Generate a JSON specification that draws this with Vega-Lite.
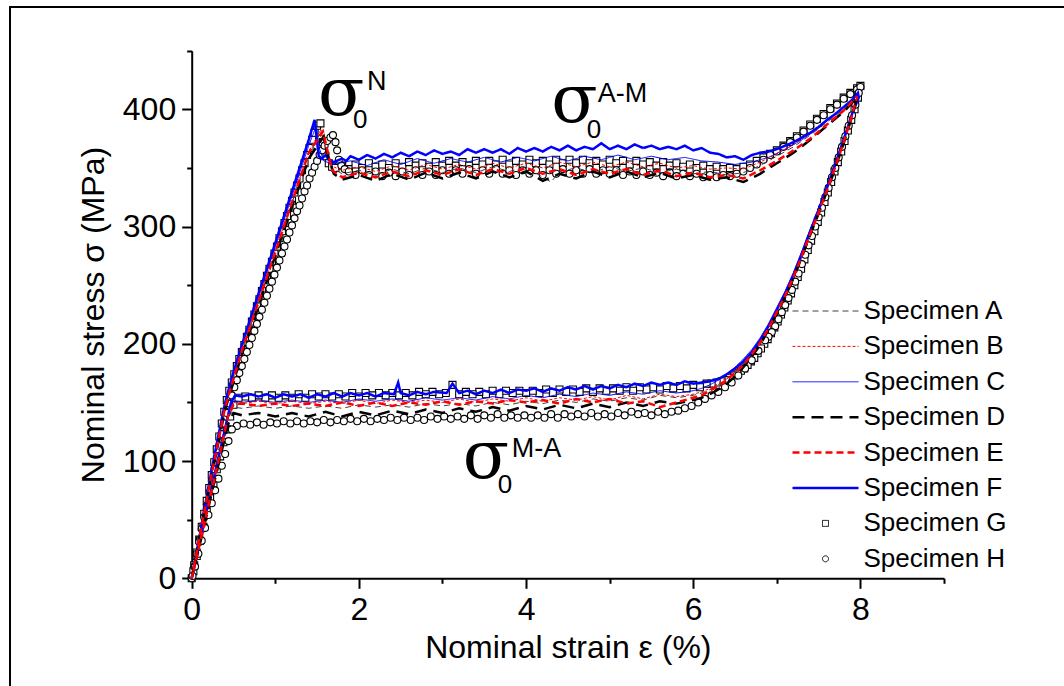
{
"$schema": "https://vega.github.io/schema/vega-lite/v6.json",
"width": 1054, "height": 679,
"autosize": {"type": "none"},
"padding": {"left": 10, "top": 7, "right": 0, "bottom": 0},
"config": {"view": {"stroke": "#000000", "strokeWidth": 2, "strokeDash": [1054, 1733, 679]}, "font": "Liberation Sans"},
"datasets": {
"curves": [
{"s":"F","x":0,"y":0},{"s":"F","x":0.1,"y":38},{"s":"F","x":0.2,"y":78},{"s":"F","x":0.3,"y":115},{"s":"F","x":0.4,"y":150},{"s":"F","x":0.5,"y":176},{"s":"F","x":0.6,"y":199},{"s":"F","x":0.7,"y":221},{"s":"F","x":0.8,"y":243},{"s":"F","x":0.9,"y":264},{"s":"F","x":1.0,"y":286},{"s":"F","x":1.1,"y":308},{"s":"F","x":1.2,"y":330},{"s":"F","x":1.3,"y":352},{"s":"F","x":1.4,"y":374},{"s":"F","x":1.47,"y":391},{"s":"F","x":1.5,"y":372},{"s":"F","x":1.52,"y":360},{"s":"F","x":1.56,"y":358},{"s":"F","x":1.6,"y":361},{"s":"F","x":1.65,"y":356},{"s":"F","x":1.7,"y":355},{"s":"F","x":1.8,"y":358},{"s":"F","x":1.85,"y":356},{"s":"F","x":1.9,"y":360},{"s":"F","x":2.0,"y":357},{"s":"F","x":2.1,"y":361},{"s":"F","x":2.2,"y":358},{"s":"F","x":2.3,"y":362},{"s":"F","x":2.4,"y":359},{"s":"F","x":2.5,"y":363},{"s":"F","x":2.6,"y":360},{"s":"F","x":2.7,"y":364},{"s":"F","x":2.8,"y":361},{"s":"F","x":2.9,"y":365},{"s":"F","x":3.0,"y":362},{"s":"F","x":3.1,"y":364},{"s":"F","x":3.2,"y":361},{"s":"F","x":3.3,"y":366},{"s":"F","x":3.4,"y":363},{"s":"F","x":3.5,"y":366},{"s":"F","x":3.6,"y":363},{"s":"F","x":3.7,"y":366},{"s":"F","x":3.8,"y":362},{"s":"F","x":3.9,"y":367},{"s":"F","x":4.0,"y":364},{"s":"F","x":4.1,"y":367},{"s":"F","x":4.2,"y":364},{"s":"F","x":4.3,"y":368},{"s":"F","x":4.4,"y":365},{"s":"F","x":4.5,"y":369},{"s":"F","x":4.6,"y":365},{"s":"F","x":4.7,"y":368},{"s":"F","x":4.8,"y":366},{"s":"F","x":4.9,"y":371},{"s":"F","x":5.0,"y":366},{"s":"F","x":5.1,"y":369},{"s":"F","x":5.2,"y":366},{"s":"F","x":5.3,"y":370},{"s":"F","x":5.4,"y":367},{"s":"F","x":5.5,"y":369},{"s":"F","x":5.6,"y":366},{"s":"F","x":5.7,"y":368},{"s":"F","x":5.8,"y":366},{"s":"F","x":5.9,"y":369},{"s":"F","x":6.0,"y":365},{"s":"F","x":6.1,"y":367},{"s":"F","x":6.2,"y":363},{"s":"F","x":6.3,"y":362},{"s":"F","x":6.4,"y":359},{"s":"F","x":6.5,"y":360},{"s":"F","x":6.6,"y":357},{"s":"F","x":6.7,"y":361},{"s":"F","x":6.8,"y":363},{"s":"F","x":6.9,"y":364},{"s":"F","x":7.0,"y":366},{"s":"F","x":7.1,"y":369},{"s":"F","x":7.2,"y":372},{"s":"F","x":7.3,"y":376},{"s":"F","x":7.4,"y":380},{"s":"F","x":7.5,"y":385},{"s":"F","x":7.6,"y":391},{"s":"F","x":7.7,"y":396},{"s":"F","x":7.8,"y":402},{"s":"F","x":7.9,"y":408},{"s":"F","x":7.97,"y":414},{"s":"F","x":7.98,"y":410},{"s":"F","x":7.9,"y":396},{"s":"F","x":7.8,"y":374},{"s":"F","x":7.7,"y":353},{"s":"F","x":7.6,"y":333},{"s":"F","x":7.5,"y":314},{"s":"F","x":7.4,"y":296},{"s":"F","x":7.3,"y":277},{"s":"F","x":7.2,"y":259},{"s":"F","x":7.1,"y":243},{"s":"F","x":7.0,"y":229},{"s":"F","x":6.9,"y":215},{"s":"F","x":6.8,"y":203},{"s":"F","x":6.7,"y":193},{"s":"F","x":6.6,"y":185},{"s":"F","x":6.5,"y":179},{"s":"F","x":6.4,"y":174},{"s":"F","x":6.3,"y":170},{"s":"F","x":6.2,"y":168},{"s":"F","x":6.1,"y":167},{"s":"F","x":6.0,"y":166},{"s":"F","x":5.9,"y":168},{"s":"F","x":5.8,"y":165},{"s":"F","x":5.7,"y":167},{"s":"F","x":5.6,"y":165},{"s":"F","x":5.5,"y":167},{"s":"F","x":5.4,"y":164},{"s":"F","x":5.3,"y":166},{"s":"F","x":5.2,"y":163},{"s":"F","x":5.1,"y":165},{"s":"F","x":5.0,"y":162},{"s":"F","x":4.9,"y":164},{"s":"F","x":4.8,"y":161},{"s":"F","x":4.7,"y":164},{"s":"F","x":4.6,"y":161},{"s":"F","x":4.5,"y":163},{"s":"F","x":4.4,"y":160},{"s":"F","x":4.3,"y":162},{"s":"F","x":4.2,"y":159},{"s":"F","x":4.1,"y":162},{"s":"F","x":4.0,"y":160},{"s":"F","x":3.9,"y":161},{"s":"F","x":3.8,"y":158},{"s":"F","x":3.7,"y":161},{"s":"F","x":3.6,"y":158},{"s":"F","x":3.5,"y":160},{"s":"F","x":3.4,"y":157},{"s":"F","x":3.3,"y":160},{"s":"F","x":3.2,"y":158},{"s":"F","x":3.12,"y":166},{"s":"F","x":3.05,"y":158},{"s":"F","x":2.9,"y":159},{"s":"F","x":2.8,"y":157},{"s":"F","x":2.7,"y":159},{"s":"F","x":2.6,"y":156},{"s":"F","x":2.5,"y":158},{"s":"F","x":2.47,"y":167},{"s":"F","x":2.42,"y":157},{"s":"F","x":2.3,"y":158},{"s":"F","x":2.2,"y":155},{"s":"F","x":2.1,"y":158},{"s":"F","x":2.0,"y":156},{"s":"F","x":1.9,"y":158},{"s":"F","x":1.8,"y":155},{"s":"F","x":1.7,"y":158},{"s":"F","x":1.6,"y":155},{"s":"F","x":1.5,"y":157},{"s":"F","x":1.4,"y":154},{"s":"F","x":1.3,"y":157},{"s":"F","x":1.2,"y":155},{"s":"F","x":1.1,"y":157},{"s":"F","x":1.0,"y":154},{"s":"F","x":0.9,"y":157},{"s":"F","x":0.8,"y":155},{"s":"F","x":0.7,"y":157},{"s":"F","x":0.6,"y":155},{"s":"F","x":0.52,"y":156},{"s":"F","x":0.47,"y":150},{"s":"F","x":0.4,"y":128},{"s":"F","x":0.3,"y":97},{"s":"F","x":0.2,"y":65},{"s":"F","x":0.1,"y":32},{"s":"F","x":0.02,"y":6},
{"s":"C","x":0,"y":0},{"s":"C","x":0.2,"y":77},{"s":"C","x":0.4,"y":149},{"s":"C","x":0.6,"y":197},{"s":"C","x":0.8,"y":240},{"s":"C","x":1.0,"y":283},{"s":"C","x":1.2,"y":326},{"s":"C","x":1.4,"y":369},{"s":"C","x":1.49,"y":386},{"s":"C","x":1.53,"y":366},{"s":"C","x":1.58,"y":356},{"s":"C","x":1.7,"y":353},{"s":"C","x":1.9,"y":356},{"s":"C","x":2.1,"y":352},{"s":"C","x":2.3,"y":357},{"s":"C","x":2.5,"y":353},{"s":"C","x":2.7,"y":358},{"s":"C","x":2.9,"y":354},{"s":"C","x":3.1,"y":358},{"s":"C","x":3.3,"y":355},{"s":"C","x":3.5,"y":359},{"s":"C","x":3.7,"y":355},{"s":"C","x":3.9,"y":359},{"s":"C","x":4.1,"y":356},{"s":"C","x":4.3,"y":360},{"s":"C","x":4.5,"y":356},{"s":"C","x":4.7,"y":360},{"s":"C","x":4.9,"y":357},{"s":"C","x":5.1,"y":361},{"s":"C","x":5.3,"y":357},{"s":"C","x":5.5,"y":360},{"s":"C","x":5.7,"y":357},{"s":"C","x":5.9,"y":359},{"s":"C","x":6.1,"y":356},{"s":"C","x":6.3,"y":355},{"s":"C","x":6.5,"y":353},{"s":"C","x":6.7,"y":355},{"s":"C","x":6.9,"y":359},{"s":"C","x":7.1,"y":366},{"s":"C","x":7.3,"y":374},{"s":"C","x":7.5,"y":384},{"s":"C","x":7.7,"y":396},{"s":"C","x":7.9,"y":408},{"s":"C","x":7.98,"y":414},{"s":"C","x":7.9,"y":397},{"s":"C","x":7.8,"y":376},{"s":"C","x":7.7,"y":355},{"s":"C","x":7.6,"y":335},{"s":"C","x":7.5,"y":316},{"s":"C","x":7.4,"y":298},{"s":"C","x":7.3,"y":279},{"s":"C","x":7.2,"y":261},{"s":"C","x":7.1,"y":245},{"s":"C","x":7.0,"y":231},{"s":"C","x":6.9,"y":217},{"s":"C","x":6.8,"y":205},{"s":"C","x":6.7,"y":195},{"s":"C","x":6.6,"y":187},{"s":"C","x":6.5,"y":180},{"s":"C","x":6.4,"y":174},{"s":"C","x":6.3,"y":169},{"s":"C","x":6.2,"y":165},{"s":"C","x":6.1,"y":162},{"s":"C","x":6.0,"y":160},{"s":"C","x":5.8,"y":158},{"s":"C","x":5.6,"y":160},{"s":"C","x":5.4,"y":157},{"s":"C","x":5.2,"y":159},{"s":"C","x":5.0,"y":156},{"s":"C","x":4.8,"y":158},{"s":"C","x":4.6,"y":155},{"s":"C","x":4.4,"y":157},{"s":"C","x":4.2,"y":154},{"s":"C","x":4.0,"y":156},{"s":"C","x":3.8,"y":153},{"s":"C","x":3.6,"y":155},{"s":"C","x":3.4,"y":152},{"s":"C","x":3.2,"y":154},{"s":"C","x":3.0,"y":152},{"s":"C","x":2.8,"y":154},{"s":"C","x":2.6,"y":151},{"s":"C","x":2.4,"y":153},{"s":"C","x":2.2,"y":151},{"s":"C","x":2.0,"y":153},{"s":"C","x":1.8,"y":150},{"s":"C","x":1.6,"y":152},{"s":"C","x":1.4,"y":150},{"s":"C","x":1.2,"y":152},{"s":"C","x":1.0,"y":150},{"s":"C","x":0.8,"y":152},{"s":"C","x":0.6,"y":150},{"s":"C","x":0.5,"y":151},{"s":"C","x":0.45,"y":145},{"s":"C","x":0.35,"y":113},{"s":"C","x":0.25,"y":81},{"s":"C","x":0.15,"y":48},{"s":"C","x":0.05,"y":16},{"s":"C","x":0,"y":0},
{"s":"A","x":0,"y":0},{"s":"A","x":0.2,"y":75},{"s":"A","x":0.4,"y":146},{"s":"A","x":0.6,"y":193},{"s":"A","x":0.8,"y":236},{"s":"A","x":1.0,"y":278},{"s":"A","x":1.2,"y":320},{"s":"A","x":1.4,"y":362},{"s":"A","x":1.55,"y":381},{"s":"A","x":1.6,"y":366},{"s":"A","x":1.68,"y":350},{"s":"A","x":1.8,"y":345},{"s":"A","x":2.0,"y":348},{"s":"A","x":2.2,"y":344},{"s":"A","x":2.4,"y":349},{"s":"A","x":2.6,"y":345},{"s":"A","x":2.8,"y":350},{"s":"A","x":3.0,"y":346},{"s":"A","x":3.2,"y":350},{"s":"A","x":3.4,"y":346},{"s":"A","x":3.6,"y":351},{"s":"A","x":3.8,"y":347},{"s":"A","x":4.0,"y":351},{"s":"A","x":4.2,"y":342},{"s":"A","x":4.3,"y":338},{"s":"A","x":4.4,"y":347},{"s":"A","x":4.6,"y":350},{"s":"A","x":4.8,"y":346},{"s":"A","x":5.0,"y":351},{"s":"A","x":5.2,"y":347},{"s":"A","x":5.4,"y":350},{"s":"A","x":5.6,"y":346},{"s":"A","x":5.8,"y":349},{"s":"A","x":6.0,"y":345},{"s":"A","x":6.2,"y":347},{"s":"A","x":6.4,"y":344},{"s":"A","x":6.6,"y":346},{"s":"A","x":6.8,"y":352},{"s":"A","x":7.0,"y":360},{"s":"A","x":7.2,"y":368},{"s":"A","x":7.4,"y":378},{"s":"A","x":7.6,"y":389},{"s":"A","x":7.8,"y":400},{"s":"A","x":7.97,"y":412},{"s":"A","x":7.9,"y":395},{"s":"A","x":7.8,"y":373},{"s":"A","x":7.7,"y":352},{"s":"A","x":7.6,"y":332},{"s":"A","x":7.5,"y":313},{"s":"A","x":7.4,"y":295},{"s":"A","x":7.3,"y":276},{"s":"A","x":7.2,"y":258},{"s":"A","x":7.1,"y":242},{"s":"A","x":7.0,"y":228},{"s":"A","x":6.9,"y":214},{"s":"A","x":6.8,"y":202},{"s":"A","x":6.7,"y":192},{"s":"A","x":6.6,"y":183},{"s":"A","x":6.5,"y":176},{"s":"A","x":6.4,"y":170},{"s":"A","x":6.3,"y":165},{"s":"A","x":6.2,"y":161},{"s":"A","x":6.1,"y":158},{"s":"A","x":6.0,"y":156},{"s":"A","x":5.8,"y":154},{"s":"A","x":5.6,"y":156},{"s":"A","x":5.4,"y":152},{"s":"A","x":5.2,"y":154},{"s":"A","x":5.0,"y":151},{"s":"A","x":4.8,"y":153},{"s":"A","x":4.6,"y":150},{"s":"A","x":4.4,"y":152},{"s":"A","x":4.2,"y":149},{"s":"A","x":4.0,"y":151},{"s":"A","x":3.8,"y":148},{"s":"A","x":3.6,"y":150},{"s":"A","x":3.4,"y":147},{"s":"A","x":3.2,"y":149},{"s":"A","x":3.0,"y":147},{"s":"A","x":2.8,"y":149},{"s":"A","x":2.6,"y":146},{"s":"A","x":2.4,"y":148},{"s":"A","x":2.2,"y":146},{"s":"A","x":2.0,"y":148},{"s":"A","x":1.8,"y":145},{"s":"A","x":1.6,"y":147},{"s":"A","x":1.4,"y":145},{"s":"A","x":1.2,"y":147},{"s":"A","x":1.0,"y":145},{"s":"A","x":0.8,"y":147},{"s":"A","x":0.6,"y":145},{"s":"A","x":0.5,"y":146},{"s":"A","x":0.44,"y":138},{"s":"A","x":0.35,"y":110},{"s":"A","x":0.25,"y":78},{"s":"A","x":0.15,"y":46},{"s":"A","x":0.05,"y":15},{"s":"A","x":0,"y":0},
{"s":"B","x":0,"y":0},{"s":"B","x":0.2,"y":76},{"s":"B","x":0.4,"y":147},{"s":"B","x":0.6,"y":195},{"s":"B","x":0.8,"y":238},{"s":"B","x":1.0,"y":280},{"s":"B","x":1.2,"y":322},{"s":"B","x":1.4,"y":364},{"s":"B","x":1.55,"y":383},{"s":"B","x":1.6,"y":368},{"s":"B","x":1.66,"y":352},{"s":"B","x":1.8,"y":348},{"s":"B","x":2.0,"y":351},{"s":"B","x":2.2,"y":347},{"s":"B","x":2.4,"y":352},{"s":"B","x":2.6,"y":348},{"s":"B","x":2.8,"y":353},{"s":"B","x":3.0,"y":349},{"s":"B","x":3.2,"y":353},{"s":"B","x":3.4,"y":349},{"s":"B","x":3.6,"y":354},{"s":"B","x":3.8,"y":350},{"s":"B","x":4.0,"y":354},{"s":"B","x":4.2,"y":350},{"s":"B","x":4.4,"y":355},{"s":"B","x":4.6,"y":351},{"s":"B","x":4.8,"y":355},{"s":"B","x":5.0,"y":351},{"s":"B","x":5.2,"y":355},{"s":"B","x":5.4,"y":351},{"s":"B","x":5.6,"y":354},{"s":"B","x":5.8,"y":350},{"s":"B","x":6.0,"y":352},{"s":"B","x":6.2,"y":349},{"s":"B","x":6.4,"y":350},{"s":"B","x":6.6,"y":349},{"s":"B","x":6.8,"y":355},{"s":"B","x":7.0,"y":362},{"s":"B","x":7.2,"y":370},{"s":"B","x":7.4,"y":380},{"s":"B","x":7.6,"y":391},{"s":"B","x":7.8,"y":402},{"s":"B","x":7.97,"y":413},{"s":"B","x":7.9,"y":396},{"s":"B","x":7.8,"y":374},{"s":"B","x":7.7,"y":353},{"s":"B","x":7.6,"y":333},{"s":"B","x":7.5,"y":314},{"s":"B","x":7.4,"y":296},{"s":"B","x":7.3,"y":277},{"s":"B","x":7.2,"y":259},{"s":"B","x":7.1,"y":243},{"s":"B","x":7.0,"y":229},{"s":"B","x":6.9,"y":215},{"s":"B","x":6.8,"y":203},{"s":"B","x":6.7,"y":193},{"s":"B","x":6.6,"y":184},{"s":"B","x":6.5,"y":177},{"s":"B","x":6.4,"y":171},{"s":"B","x":6.3,"y":166},{"s":"B","x":6.2,"y":162},{"s":"B","x":6.1,"y":159},{"s":"B","x":6.0,"y":157},{"s":"B","x":5.8,"y":155},{"s":"B","x":5.6,"y":157},{"s":"B","x":5.4,"y":153},{"s":"B","x":5.2,"y":156},{"s":"B","x":5.0,"y":152},{"s":"B","x":4.8,"y":155},{"s":"B","x":4.6,"y":152},{"s":"B","x":4.4,"y":154},{"s":"B","x":4.2,"y":151},{"s":"B","x":4.0,"y":154},{"s":"B","x":3.8,"y":151},{"s":"B","x":3.6,"y":153},{"s":"B","x":3.4,"y":150},{"s":"B","x":3.2,"y":153},{"s":"B","x":3.0,"y":150},{"s":"B","x":2.8,"y":152},{"s":"B","x":2.6,"y":150},{"s":"B","x":2.4,"y":152},{"s":"B","x":2.2,"y":149},{"s":"B","x":2.0,"y":152},{"s":"B","x":1.8,"y":149},{"s":"B","x":1.6,"y":151},{"s":"B","x":1.4,"y":149},{"s":"B","x":1.2,"y":151},{"s":"B","x":1.0,"y":149},{"s":"B","x":0.8,"y":151},{"s":"B","x":0.6,"y":149},{"s":"B","x":0.5,"y":150},{"s":"B","x":0.45,"y":142},{"s":"B","x":0.35,"y":111},{"s":"B","x":0.25,"y":79},{"s":"B","x":0.15,"y":47},{"s":"B","x":0.05,"y":15},{"s":"B","x":0,"y":0},
{"s":"D","x":0,"y":0},{"s":"D","x":0.2,"y":74},{"s":"D","x":0.4,"y":144},{"s":"D","x":0.6,"y":191},{"s":"D","x":0.8,"y":233},{"s":"D","x":1.0,"y":275},{"s":"D","x":1.2,"y":317},{"s":"D","x":1.4,"y":358},{"s":"D","x":1.58,"y":377},{"s":"D","x":1.63,"y":360},{"s":"D","x":1.7,"y":345},{"s":"D","x":1.8,"y":340},{"s":"D","x":2.0,"y":344},{"s":"D","x":2.2,"y":339},{"s":"D","x":2.4,"y":345},{"s":"D","x":2.6,"y":340},{"s":"D","x":2.8,"y":346},{"s":"D","x":3.0,"y":341},{"s":"D","x":3.2,"y":346},{"s":"D","x":3.4,"y":341},{"s":"D","x":3.6,"y":347},{"s":"D","x":3.8,"y":342},{"s":"D","x":4.0,"y":347},{"s":"D","x":4.2,"y":339},{"s":"D","x":4.4,"y":345},{"s":"D","x":4.6,"y":341},{"s":"D","x":4.8,"y":347},{"s":"D","x":5.0,"y":342},{"s":"D","x":5.2,"y":347},{"s":"D","x":5.4,"y":342},{"s":"D","x":5.6,"y":346},{"s":"D","x":5.8,"y":341},{"s":"D","x":6.0,"y":344},{"s":"D","x":6.2,"y":340},{"s":"D","x":6.4,"y":342},{"s":"D","x":6.6,"y":338},{"s":"D","x":6.8,"y":345},{"s":"D","x":7.0,"y":354},{"s":"D","x":7.2,"y":363},{"s":"D","x":7.4,"y":374},{"s":"D","x":7.6,"y":386},{"s":"D","x":7.8,"y":398},{"s":"D","x":7.96,"y":410},{"s":"D","x":7.9,"y":394},{"s":"D","x":7.8,"y":371},{"s":"D","x":7.7,"y":350},{"s":"D","x":7.6,"y":330},{"s":"D","x":7.5,"y":311},{"s":"D","x":7.4,"y":293},{"s":"D","x":7.3,"y":274},{"s":"D","x":7.2,"y":256},{"s":"D","x":7.1,"y":240},{"s":"D","x":7.0,"y":226},{"s":"D","x":6.9,"y":212},{"s":"D","x":6.8,"y":199},{"s":"D","x":6.7,"y":189},{"s":"D","x":6.6,"y":180},{"s":"D","x":6.5,"y":172},{"s":"D","x":6.4,"y":166},{"s":"D","x":6.3,"y":161},{"s":"D","x":6.2,"y":157},{"s":"D","x":6.1,"y":154},{"s":"D","x":6.0,"y":152},{"s":"D","x":5.8,"y":149},{"s":"D","x":5.6,"y":151},{"s":"D","x":5.4,"y":147},{"s":"D","x":5.2,"y":150},{"s":"D","x":5.0,"y":146},{"s":"D","x":4.8,"y":149},{"s":"D","x":4.6,"y":145},{"s":"D","x":4.4,"y":148},{"s":"D","x":4.2,"y":144},{"s":"D","x":4.0,"y":147},{"s":"D","x":3.8,"y":143},{"s":"D","x":3.6,"y":146},{"s":"D","x":3.4,"y":142},{"s":"D","x":3.2,"y":145},{"s":"D","x":3.0,"y":141},{"s":"D","x":2.8,"y":144},{"s":"D","x":2.6,"y":140},{"s":"D","x":2.4,"y":143},{"s":"D","x":2.2,"y":139},{"s":"D","x":2.0,"y":142},{"s":"D","x":1.8,"y":138},{"s":"D","x":1.6,"y":142},{"s":"D","x":1.4,"y":138},{"s":"D","x":1.2,"y":141},{"s":"D","x":1.0,"y":138},{"s":"D","x":0.8,"y":141},{"s":"D","x":0.6,"y":139},{"s":"D","x":0.5,"y":141},{"s":"D","x":0.44,"y":132},{"s":"D","x":0.35,"y":106},{"s":"D","x":0.25,"y":76},{"s":"D","x":0.15,"y":45},{"s":"D","x":0.05,"y":15},{"s":"D","x":0,"y":0},
{"s":"E","x":0,"y":0},{"s":"E","x":0.2,"y":75},{"s":"E","x":0.4,"y":146},{"s":"E","x":0.6,"y":194},{"s":"E","x":0.8,"y":236},{"s":"E","x":1.0,"y":278},{"s":"E","x":1.2,"y":321},{"s":"E","x":1.4,"y":363},{"s":"E","x":1.57,"y":381},{"s":"E","x":1.62,"y":366},{"s":"E","x":1.68,"y":348},{"s":"E","x":1.8,"y":342},{"s":"E","x":2.0,"y":346},{"s":"E","x":2.2,"y":342},{"s":"E","x":2.4,"y":347},{"s":"E","x":2.6,"y":343},{"s":"E","x":2.8,"y":348},{"s":"E","x":3.0,"y":344},{"s":"E","x":3.2,"y":349},{"s":"E","x":3.4,"y":344},{"s":"E","x":3.6,"y":349},{"s":"E","x":3.8,"y":345},{"s":"E","x":4.0,"y":350},{"s":"E","x":4.2,"y":345},{"s":"E","x":4.4,"y":349},{"s":"E","x":4.6,"y":344},{"s":"E","x":4.8,"y":349},{"s":"E","x":5.0,"y":345},{"s":"E","x":5.2,"y":349},{"s":"E","x":5.4,"y":344},{"s":"E","x":5.6,"y":348},{"s":"E","x":5.8,"y":343},{"s":"E","x":6.0,"y":346},{"s":"E","x":6.2,"y":342},{"s":"E","x":6.4,"y":344},{"s":"E","x":6.6,"y":341},{"s":"E","x":6.8,"y":348},{"s":"E","x":7.0,"y":356},{"s":"E","x":7.2,"y":365},{"s":"E","x":7.4,"y":375},{"s":"E","x":7.6,"y":387},{"s":"E","x":7.8,"y":399},{"s":"E","x":7.96,"y":411},{"s":"E","x":7.9,"y":395},{"s":"E","x":7.8,"y":372},{"s":"E","x":7.7,"y":351},{"s":"E","x":7.6,"y":331},{"s":"E","x":7.5,"y":312},{"s":"E","x":7.4,"y":294},{"s":"E","x":7.3,"y":275},{"s":"E","x":7.2,"y":257},{"s":"E","x":7.1,"y":241},{"s":"E","x":7.0,"y":227},{"s":"E","x":6.9,"y":213},{"s":"E","x":6.8,"y":201},{"s":"E","x":6.7,"y":191},{"s":"E","x":6.6,"y":182},{"s":"E","x":6.5,"y":175},{"s":"E","x":6.4,"y":169},{"s":"E","x":6.3,"y":164},{"s":"E","x":6.2,"y":160},{"s":"E","x":6.1,"y":156},{"s":"E","x":6.0,"y":154},{"s":"E","x":5.8,"y":150},{"s":"E","x":5.6,"y":146},{"s":"E","x":5.4,"y":151},{"s":"E","x":5.2,"y":149},{"s":"E","x":5.0,"y":153},{"s":"E","x":4.8,"y":150},{"s":"E","x":4.6,"y":153},{"s":"E","x":4.4,"y":149},{"s":"E","x":4.2,"y":152},{"s":"E","x":4.0,"y":150},{"s":"E","x":3.8,"y":152},{"s":"E","x":3.6,"y":149},{"s":"E","x":3.4,"y":151},{"s":"E","x":3.2,"y":148},{"s":"E","x":3.0,"y":151},{"s":"E","x":2.8,"y":148},{"s":"E","x":2.6,"y":150},{"s":"E","x":2.4,"y":147},{"s":"E","x":2.2,"y":150},{"s":"E","x":2.0,"y":147},{"s":"E","x":1.8,"y":150},{"s":"E","x":1.6,"y":147},{"s":"E","x":1.4,"y":149},{"s":"E","x":1.2,"y":147},{"s":"E","x":1.0,"y":149},{"s":"E","x":0.8,"y":147},{"s":"E","x":0.6,"y":149},{"s":"E","x":0.5,"y":148},{"s":"E","x":0.44,"y":140},{"s":"E","x":0.35,"y":110},{"s":"E","x":0.25,"y":78},{"s":"E","x":0.15,"y":46},{"s":"E","x":0.05,"y":15},{"s":"E","x":0,"y":0}
],
"pts": [
{"s":"G","x":0,"y":0},{"s":"G","x":0.03,"y":11},{"s":"G","x":0.06,"y":22},{"s":"G","x":0.09,"y":33},{"s":"G","x":0.12,"y":44},{"s":"G","x":0.15,"y":55},{"s":"G","x":0.18,"y":66},{"s":"G","x":0.21,"y":77},{"s":"G","x":0.24,"y":88},{"s":"G","x":0.27,"y":99},{"s":"G","x":0.3,"y":110},{"s":"G","x":0.33,"y":121},{"s":"G","x":0.36,"y":132},{"s":"G","x":0.39,"y":142},{"s":"G","x":0.42,"y":152},{"s":"G","x":0.45,"y":160},{"s":"G","x":0.48,"y":167},{"s":"G","x":0.51,"y":174},{"s":"G","x":0.54,"y":181},{"s":"G","x":0.57,"y":187},{"s":"G","x":0.6,"y":193},{"s":"G","x":0.63,"y":199},{"s":"G","x":0.66,"y":206},{"s":"G","x":0.69,"y":212},{"s":"G","x":0.72,"y":219},{"s":"G","x":0.75,"y":225},{"s":"G","x":0.78,"y":232},{"s":"G","x":0.81,"y":238},{"s":"G","x":0.84,"y":245},{"s":"G","x":0.87,"y":251},{"s":"G","x":0.9,"y":258},{"s":"G","x":0.93,"y":264},{"s":"G","x":0.96,"y":270},{"s":"G","x":0.99,"y":277},{"s":"G","x":1.02,"y":283},{"s":"G","x":1.05,"y":290},{"s":"G","x":1.08,"y":296},{"s":"G","x":1.11,"y":303},{"s":"G","x":1.14,"y":309},{"s":"G","x":1.17,"y":316},{"s":"G","x":1.2,"y":322},{"s":"G","x":1.23,"y":329},{"s":"G","x":1.26,"y":335},{"s":"G","x":1.29,"y":341},{"s":"G","x":1.32,"y":348},{"s":"G","x":1.35,"y":354},{"s":"G","x":1.38,"y":361},{"s":"G","x":1.41,"y":367},{"s":"G","x":1.44,"y":374},{"s":"G","x":1.47,"y":380},{"s":"G","x":1.5,"y":386},{"s":"G","x":1.54,"y":388},{"s":"G","x":1.57,"y":372},{"s":"G","x":1.6,"y":360},{"s":"G","x":1.64,"y":354},{"s":"G","x":1.68,"y":351},
{"s":"G","x":1.72,"y":350},{"s":"G","x":1.8,"y":352},{"s":"G","x":1.88,"y":349},{"s":"G","x":1.96,"y":353},{"s":"G","x":2.04,"y":350},{"s":"G","x":2.12,"y":354},{"s":"G","x":2.2,"y":351},{"s":"G","x":2.28,"y":353},{"s":"G","x":2.36,"y":350},{"s":"G","x":2.44,"y":354},{"s":"G","x":2.52,"y":351},{"s":"G","x":2.6,"y":355},{"s":"G","x":2.68,"y":352},{"s":"G","x":2.76,"y":354},{"s":"G","x":2.84,"y":351},{"s":"G","x":2.92,"y":355},{"s":"G","x":3.0,"y":352},{"s":"G","x":3.08,"y":356},{"s":"G","x":3.16,"y":352},{"s":"G","x":3.24,"y":355},{"s":"G","x":3.32,"y":352},{"s":"G","x":3.4,"y":356},{"s":"G","x":3.48,"y":353},{"s":"G","x":3.56,"y":356},{"s":"G","x":3.64,"y":353},{"s":"G","x":3.72,"y":357},{"s":"G","x":3.8,"y":353},{"s":"G","x":3.88,"y":356},{"s":"G","x":3.96,"y":353},{"s":"G","x":4.04,"y":357},{"s":"G","x":4.12,"y":354},{"s":"G","x":4.2,"y":356},{"s":"G","x":4.28,"y":353},{"s":"G","x":4.36,"y":357},{"s":"G","x":4.44,"y":354},{"s":"G","x":4.52,"y":357},{"s":"G","x":4.6,"y":354},{"s":"G","x":4.68,"y":357},{"s":"G","x":4.76,"y":354},{"s":"G","x":4.84,"y":356},{"s":"G","x":4.92,"y":353},{"s":"G","x":5.0,"y":357},{"s":"G","x":5.08,"y":354},{"s":"G","x":5.16,"y":356},{"s":"G","x":5.24,"y":353},{"s":"G","x":5.32,"y":356},{"s":"G","x":5.4,"y":353},{"s":"G","x":5.48,"y":355},{"s":"G","x":5.56,"y":352},{"s":"G","x":5.64,"y":355},{"s":"G","x":5.72,"y":352},{"s":"G","x":5.8,"y":354},{"s":"G","x":5.88,"y":351},{"s":"G","x":5.96,"y":353},{"s":"G","x":6.04,"y":350},{"s":"G","x":6.12,"y":352},{"s":"G","x":6.2,"y":349},{"s":"G","x":6.28,"y":351},{"s":"G","x":6.36,"y":349},{"s":"G","x":6.44,"y":350},{"s":"G","x":6.52,"y":349},{"s":"G","x":6.6,"y":351},{"s":"G","x":6.68,"y":353},{"s":"G","x":6.76,"y":356},{"s":"G","x":6.84,"y":359},
{"s":"G","x":6.92,"y":362},{"s":"G","x":7.0,"y":365},{"s":"G","x":7.08,"y":369},{"s":"G","x":7.16,"y":373},{"s":"G","x":7.24,"y":377},{"s":"G","x":7.32,"y":382},{"s":"G","x":7.4,"y":387},{"s":"G","x":7.48,"y":392},{"s":"G","x":7.56,"y":396},{"s":"G","x":7.64,"y":401},{"s":"G","x":7.72,"y":405},{"s":"G","x":7.8,"y":410},{"s":"G","x":7.88,"y":414},{"s":"G","x":7.96,"y":418},{"s":"G","x":8.0,"y":420},
{"s":"G","x":7.97,"y":410},{"s":"G","x":7.93,"y":400},{"s":"G","x":7.89,"y":391},{"s":"G","x":7.85,"y":382},{"s":"G","x":7.81,"y":373},{"s":"G","x":7.77,"y":364},{"s":"G","x":7.73,"y":355},{"s":"G","x":7.69,"y":347},{"s":"G","x":7.65,"y":338},{"s":"G","x":7.61,"y":329},{"s":"G","x":7.57,"y":321},{"s":"G","x":7.53,"y":312},{"s":"G","x":7.49,"y":304},{"s":"G","x":7.45,"y":296},{"s":"G","x":7.41,"y":288},{"s":"G","x":7.37,"y":280},{"s":"G","x":7.33,"y":272},{"s":"G","x":7.29,"y":264},{"s":"G","x":7.25,"y":257},{"s":"G","x":7.21,"y":250},{"s":"G","x":7.17,"y":243},{"s":"G","x":7.13,"y":237},{"s":"G","x":7.09,"y":231},{"s":"G","x":7.05,"y":225},{"s":"G","x":7.01,"y":219},{"s":"G","x":6.97,"y":214},{"s":"G","x":6.93,"y":209},{"s":"G","x":6.89,"y":204},{"s":"G","x":6.85,"y":200},{"s":"G","x":6.81,"y":196},{"s":"G","x":6.77,"y":192},{"s":"G","x":6.73,"y":188},{"s":"G","x":6.69,"y":185},{"s":"G","x":6.65,"y":182},{"s":"G","x":6.61,"y":179},{"s":"G","x":6.57,"y":177},{"s":"G","x":6.53,"y":175},{"s":"G","x":6.49,"y":173},{"s":"G","x":6.44,"y":171},{"s":"G","x":6.39,"y":169},{"s":"G","x":6.34,"y":168},{"s":"G","x":6.28,"y":167},{"s":"G","x":6.22,"y":166},
{"s":"G","x":6.16,"y":166},{"s":"G","x":6.08,"y":163},{"s":"G","x":6.0,"y":165},{"s":"G","x":5.92,"y":162},{"s":"G","x":5.84,"y":164},{"s":"G","x":5.76,"y":162},{"s":"G","x":5.68,"y":164},{"s":"G","x":5.6,"y":161},{"s":"G","x":5.52,"y":163},{"s":"G","x":5.44,"y":161},{"s":"G","x":5.36,"y":163},{"s":"G","x":5.28,"y":160},{"s":"G","x":5.2,"y":163},{"s":"G","x":5.12,"y":160},{"s":"G","x":5.04,"y":162},{"s":"G","x":4.96,"y":160},{"s":"G","x":4.88,"y":162},{"s":"G","x":4.8,"y":159},{"s":"G","x":4.72,"y":162},{"s":"G","x":4.64,"y":159},{"s":"G","x":4.56,"y":161},{"s":"G","x":4.48,"y":159},{"s":"G","x":4.4,"y":161},{"s":"G","x":4.32,"y":158},{"s":"G","x":4.24,"y":161},{"s":"G","x":4.16,"y":158},{"s":"G","x":4.08,"y":160},{"s":"G","x":4.0,"y":158},{"s":"G","x":3.92,"y":160},{"s":"G","x":3.84,"y":158},{"s":"G","x":3.76,"y":160},{"s":"G","x":3.68,"y":157},{"s":"G","x":3.6,"y":160},{"s":"G","x":3.52,"y":157},{"s":"G","x":3.44,"y":159},{"s":"G","x":3.36,"y":157},{"s":"G","x":3.28,"y":159},{"s":"G","x":3.2,"y":157},{"s":"G","x":3.12,"y":165},{"s":"G","x":3.04,"y":158},{"s":"G","x":2.96,"y":157},{"s":"G","x":2.88,"y":159},{"s":"G","x":2.8,"y":157},{"s":"G","x":2.72,"y":159},{"s":"G","x":2.64,"y":156},{"s":"G","x":2.56,"y":158},{"s":"G","x":2.48,"y":156},{"s":"G","x":2.4,"y":158},{"s":"G","x":2.32,"y":156},{"s":"G","x":2.24,"y":158},{"s":"G","x":2.16,"y":156},{"s":"G","x":2.08,"y":158},{"s":"G","x":2.0,"y":155},{"s":"G","x":1.92,"y":158},{"s":"G","x":1.84,"y":155},{"s":"G","x":1.76,"y":157},{"s":"G","x":1.68,"y":155},{"s":"G","x":1.6,"y":157},{"s":"G","x":1.52,"y":155},{"s":"G","x":1.44,"y":157},{"s":"G","x":1.36,"y":154},{"s":"G","x":1.28,"y":157},{"s":"G","x":1.2,"y":154},{"s":"G","x":1.12,"y":156},{"s":"G","x":1.04,"y":154},{"s":"G","x":0.96,"y":156},{"s":"G","x":0.88,"y":154},{"s":"G","x":0.8,"y":156},{"s":"G","x":0.72,"y":154},{"s":"G","x":0.64,"y":155},{"s":"G","x":0.56,"y":154},
{"s":"G","x":0.5,"y":148},{"s":"G","x":0.46,"y":138},{"s":"G","x":0.42,"y":127},{"s":"G","x":0.38,"y":116},{"s":"G","x":0.34,"y":104},{"s":"G","x":0.3,"y":93},{"s":"G","x":0.26,"y":81},{"s":"G","x":0.22,"y":69},{"s":"G","x":0.18,"y":57},{"s":"G","x":0.14,"y":44},{"s":"G","x":0.1,"y":32},{"s":"G","x":0.06,"y":19},{"s":"G","x":0.02,"y":6},
{"s":"H","x":0,"y":0},{"s":"H","x":0.03,"y":10},{"s":"H","x":0.06,"y":21},{"s":"H","x":0.09,"y":31},{"s":"H","x":0.12,"y":42},{"s":"H","x":0.15,"y":52},{"s":"H","x":0.18,"y":62},{"s":"H","x":0.21,"y":73},{"s":"H","x":0.24,"y":83},{"s":"H","x":0.27,"y":93},{"s":"H","x":0.3,"y":103},{"s":"H","x":0.33,"y":113},{"s":"H","x":0.36,"y":123},{"s":"H","x":0.39,"y":132},{"s":"H","x":0.42,"y":141},{"s":"H","x":0.45,"y":149},{"s":"H","x":0.48,"y":156},{"s":"H","x":0.51,"y":163},{"s":"H","x":0.54,"y":169},{"s":"H","x":0.57,"y":175},{"s":"H","x":0.6,"y":181},{"s":"H","x":0.63,"y":187},{"s":"H","x":0.66,"y":193},{"s":"H","x":0.69,"y":199},{"s":"H","x":0.72,"y":205},{"s":"H","x":0.75,"y":211},{"s":"H","x":0.78,"y":217},{"s":"H","x":0.81,"y":223},{"s":"H","x":0.84,"y":229},{"s":"H","x":0.87,"y":235},{"s":"H","x":0.9,"y":241},{"s":"H","x":0.93,"y":247},{"s":"H","x":0.96,"y":253},{"s":"H","x":0.99,"y":259},{"s":"H","x":1.02,"y":265},{"s":"H","x":1.05,"y":271},{"s":"H","x":1.08,"y":277},{"s":"H","x":1.11,"y":283},{"s":"H","x":1.14,"y":289},{"s":"H","x":1.17,"y":295},{"s":"H","x":1.2,"y":301},{"s":"H","x":1.23,"y":307},{"s":"H","x":1.26,"y":313},{"s":"H","x":1.29,"y":318},{"s":"H","x":1.32,"y":324},{"s":"H","x":1.35,"y":330},{"s":"H","x":1.38,"y":335},{"s":"H","x":1.41,"y":341},{"s":"H","x":1.44,"y":346},{"s":"H","x":1.47,"y":351},{"s":"H","x":1.5,"y":356},{"s":"H","x":1.53,"y":361},{"s":"H","x":1.56,"y":365},{"s":"H","x":1.59,"y":369},{"s":"H","x":1.62,"y":373},{"s":"H","x":1.66,"y":376},{"s":"H","x":1.69,"y":378},{"s":"H","x":1.72,"y":372},{"s":"H","x":1.74,"y":365},{"s":"H","x":1.76,"y":357},{"s":"H","x":1.79,"y":352},{"s":"H","x":1.83,"y":349},
{"s":"H","x":1.88,"y":347},{"s":"H","x":1.96,"y":344},{"s":"H","x":2.04,"y":348},{"s":"H","x":2.12,"y":344},{"s":"H","x":2.2,"y":347},{"s":"H","x":2.28,"y":343},{"s":"H","x":2.36,"y":346},{"s":"H","x":2.44,"y":343},{"s":"H","x":2.52,"y":347},{"s":"H","x":2.6,"y":344},{"s":"H","x":2.68,"y":348},{"s":"H","x":2.76,"y":344},{"s":"H","x":2.84,"y":347},{"s":"H","x":2.92,"y":344},{"s":"H","x":3.0,"y":348},{"s":"H","x":3.08,"y":345},{"s":"H","x":3.16,"y":348},{"s":"H","x":3.24,"y":345},{"s":"H","x":3.32,"y":349},{"s":"H","x":3.4,"y":345},{"s":"H","x":3.48,"y":348},{"s":"H","x":3.56,"y":345},{"s":"H","x":3.64,"y":349},{"s":"H","x":3.72,"y":345},{"s":"H","x":3.8,"y":348},{"s":"H","x":3.88,"y":344},{"s":"H","x":3.96,"y":348},{"s":"H","x":4.04,"y":345},{"s":"H","x":4.12,"y":348},{"s":"H","x":4.2,"y":344},{"s":"H","x":4.28,"y":348},{"s":"H","x":4.36,"y":345},{"s":"H","x":4.44,"y":349},{"s":"H","x":4.52,"y":345},{"s":"H","x":4.6,"y":348},{"s":"H","x":4.68,"y":345},{"s":"H","x":4.76,"y":349},{"s":"H","x":4.84,"y":345},{"s":"H","x":4.92,"y":348},{"s":"H","x":5.0,"y":345},{"s":"H","x":5.08,"y":348},{"s":"H","x":5.16,"y":344},{"s":"H","x":5.24,"y":347},{"s":"H","x":5.32,"y":344},{"s":"H","x":5.4,"y":347},{"s":"H","x":5.48,"y":344},{"s":"H","x":5.56,"y":346},{"s":"H","x":5.64,"y":343},{"s":"H","x":5.72,"y":346},{"s":"H","x":5.8,"y":343},{"s":"H","x":5.88,"y":345},{"s":"H","x":5.96,"y":343},{"s":"H","x":6.04,"y":345},{"s":"H","x":6.12,"y":342},{"s":"H","x":6.2,"y":344},{"s":"H","x":6.28,"y":342},{"s":"H","x":6.36,"y":344},{"s":"H","x":6.44,"y":343},{"s":"H","x":6.52,"y":345},{"s":"H","x":6.6,"y":347},{"s":"H","x":6.68,"y":350},{"s":"H","x":6.76,"y":353},{"s":"H","x":6.84,"y":357},
{"s":"H","x":6.92,"y":361},{"s":"H","x":7.0,"y":364},{"s":"H","x":7.08,"y":368},{"s":"H","x":7.16,"y":372},{"s":"H","x":7.24,"y":376},{"s":"H","x":7.32,"y":381},{"s":"H","x":7.4,"y":386},{"s":"H","x":7.48,"y":391},{"s":"H","x":7.56,"y":395},{"s":"H","x":7.64,"y":400},{"s":"H","x":7.72,"y":404},{"s":"H","x":7.8,"y":409},{"s":"H","x":7.88,"y":413},{"s":"H","x":7.96,"y":417},{"s":"H","x":8.0,"y":419},
{"s":"H","x":7.98,"y":414},{"s":"H","x":7.94,"y":404},{"s":"H","x":7.9,"y":395},{"s":"H","x":7.86,"y":386},{"s":"H","x":7.82,"y":377},{"s":"H","x":7.78,"y":368},{"s":"H","x":7.74,"y":359},{"s":"H","x":7.7,"y":350},{"s":"H","x":7.66,"y":342},{"s":"H","x":7.62,"y":333},{"s":"H","x":7.58,"y":325},{"s":"H","x":7.54,"y":316},{"s":"H","x":7.5,"y":308},{"s":"H","x":7.46,"y":300},{"s":"H","x":7.42,"y":292},{"s":"H","x":7.38,"y":284},{"s":"H","x":7.34,"y":276},{"s":"H","x":7.3,"y":268},{"s":"H","x":7.26,"y":260},{"s":"H","x":7.22,"y":253},{"s":"H","x":7.18,"y":246},{"s":"H","x":7.14,"y":239},{"s":"H","x":7.1,"y":233},{"s":"H","x":7.06,"y":227},{"s":"H","x":7.02,"y":221},{"s":"H","x":6.98,"y":215},{"s":"H","x":6.94,"y":210},{"s":"H","x":6.9,"y":206},{"s":"H","x":6.86,"y":203},{"s":"H","x":6.78,"y":194},{"s":"H","x":6.7,"y":186},{"s":"H","x":6.62,"y":179},{"s":"H","x":6.54,"y":173},{"s":"H","x":6.46,"y":167},{"s":"H","x":6.38,"y":163},{"s":"H","x":6.3,"y":159},{"s":"H","x":6.22,"y":156},{"s":"H","x":6.14,"y":153},{"s":"H","x":6.06,"y":150},{"s":"H","x":5.98,"y":147},{"s":"H","x":5.9,"y":145},{"s":"H","x":5.82,"y":143},
{"s":"H","x":5.74,"y":142},{"s":"H","x":5.66,"y":140},{"s":"H","x":5.58,"y":142},{"s":"H","x":5.5,"y":139},{"s":"H","x":5.42,"y":141},{"s":"H","x":5.34,"y":140},{"s":"H","x":5.26,"y":142},{"s":"H","x":5.18,"y":139},{"s":"H","x":5.1,"y":141},{"s":"H","x":5.02,"y":138},{"s":"H","x":4.94,"y":140},{"s":"H","x":4.86,"y":138},{"s":"H","x":4.78,"y":141},{"s":"H","x":4.7,"y":138},{"s":"H","x":4.62,"y":140},{"s":"H","x":4.54,"y":138},{"s":"H","x":4.46,"y":140},{"s":"H","x":4.38,"y":137},{"s":"H","x":4.3,"y":140},{"s":"H","x":4.22,"y":137},{"s":"H","x":4.14,"y":139},{"s":"H","x":4.06,"y":137},{"s":"H","x":3.98,"y":139},{"s":"H","x":3.9,"y":137},{"s":"H","x":3.82,"y":139},{"s":"H","x":3.74,"y":137},{"s":"H","x":3.66,"y":140},{"s":"H","x":3.58,"y":137},{"s":"H","x":3.5,"y":139},{"s":"H","x":3.42,"y":136},{"s":"H","x":3.34,"y":139},{"s":"H","x":3.26,"y":136},{"s":"H","x":3.18,"y":138},{"s":"H","x":3.1,"y":136},{"s":"H","x":3.02,"y":138},{"s":"H","x":2.94,"y":136},{"s":"H","x":2.86,"y":138},{"s":"H","x":2.78,"y":135},{"s":"H","x":2.7,"y":137},{"s":"H","x":2.62,"y":135},{"s":"H","x":2.54,"y":137},{"s":"H","x":2.46,"y":135},{"s":"H","x":2.38,"y":137},{"s":"H","x":2.3,"y":135},{"s":"H","x":2.22,"y":136},{"s":"H","x":2.14,"y":134},{"s":"H","x":2.06,"y":136},{"s":"H","x":1.98,"y":134},{"s":"H","x":1.9,"y":136},{"s":"H","x":1.82,"y":134},{"s":"H","x":1.74,"y":135},{"s":"H","x":1.66,"y":133},{"s":"H","x":1.58,"y":135},{"s":"H","x":1.5,"y":133},{"s":"H","x":1.42,"y":134},{"s":"H","x":1.34,"y":132},{"s":"H","x":1.26,"y":134},{"s":"H","x":1.18,"y":132},{"s":"H","x":1.1,"y":134},{"s":"H","x":1.02,"y":132},{"s":"H","x":0.94,"y":133},{"s":"H","x":0.86,"y":131},{"s":"H","x":0.78,"y":133},{"s":"H","x":0.7,"y":131},{"s":"H","x":0.62,"y":132},{"s":"H","x":0.54,"y":130},
{"s":"H","x":0.48,"y":127},{"s":"H","x":0.44,"y":117},{"s":"H","x":0.4,"y":106},{"s":"H","x":0.36,"y":96},{"s":"H","x":0.32,"y":85},{"s":"H","x":0.28,"y":75},{"s":"H","x":0.24,"y":64},{"s":"H","x":0.2,"y":54},{"s":"H","x":0.16,"y":43},{"s":"H","x":0.12,"y":32},{"s":"H","x":0.08,"y":21},{"s":"H","x":0.04,"y":10},{"s":"H","x":0.01,"y":2}
],
"sig": [{"t":"σ","x":1.51,"y":394.9},{"t":"σ","x":4.3,"y":389.2},{"t":"σ","x":3.243,"y":85.5}],
"sub": [{"t":"0","x":1.93,"y":383.8},{"t":"0","x":4.726,"y":375.3},{"t":"0","x":3.662,"y":72.7}],
"sup": [{"t":"N","x":2.097,"y":416.2},{"t":"A-M","x":4.857,"y":406.2},{"t":"M-A","x":3.829,"y":103.4}]
},
"encoding": {
"x": {"field": "x", "type": "quantitative",
 "scale": {"domain": [0, 9], "range": [181.7, 934], "nice": false, "zero": false},
 "axis": {"orient": "bottom", "offset": -107.7, "values": [0,1,2,3,4,5,6,7,8,9],
  "labelExpr": "datum.value % 2 === 0 ? datum.label : ''",
  "tickSize": {"condition": {"test": "datum.value % 2 === 0", "value": 10}, "value": 5},
  "tickWidth": 2, "tickColor": "#000000", "domainWidth": 2, "domainColor": "#000000",
  "labelFont": "Liberation Sans", "labelFontSize": 32, "labelColor": "#000000", "labelPadding": 6,
  "labelFlush": false, "labelOverlap": false, "grid": false,
  "title": "Nominal strain ε (%)", "titleFont": "Liberation Sans", "titleFontSize": 32, "titleFontWeight": "normal", "titleColor": "#000000", "titlePadding": 7}},
"y": {"field": "y", "type": "quantitative",
 "scale": {"domain": [0, 450], "range": [571.3, 43.7], "nice": false, "zero": false},
 "axis": {"orient": "left", "offset": -181.7, "values": [0,50,100,150,200,250,300,350,400,450],
  "labelExpr": "datum.value % 100 === 0 ? datum.label : ''",
  "tickSize": {"condition": {"test": "datum.value % 100 === 0", "value": 10}, "value": 5},
  "tickWidth": 2, "tickColor": "#000000", "domainWidth": 2, "domainColor": "#000000",
  "labelFont": "Liberation Sans", "labelFontSize": 32, "labelColor": "#000000", "labelPadding": 6,
  "labelFlush": false, "labelOverlap": false, "grid": false,
  "title": "Nominal stress σ (MPa)", "titleFont": "Liberation Sans", "titleFontSize": 32, "titleFontWeight": "normal", "titleColor": "#000000", "titlePadding": 12}}
},
"layer": [
{"data": {"name": "pts"},
 "mark": {"type": "point", "filled": false, "fill": "#ffffff", "strokeWidth": 1.1, "size": 49, "opacity": 1},
 "encoding": {
  "color": {"field": "s", "type": "nominal", "scale": {"domain": ["A","B","C","D","E","F","G","H"], "range": ["#404040","#ff0000","#0000ff","#000000","#ff0000","#0000ff","#000000","#000000"]}},
  "shape": {"field": "s", "type": "nominal", "scale": {"domain": ["G","H"], "range": ["square","circle"]}, "legend": null}
 }},
{"data": {"name": "curves"},
 "transform": [{"filter": "indexof(['A','B','C'], datum.s) >= 0"}],
 "mark": {"type": "line", "strokeWidth": 1},
 "encoding": {
  "color": {"field": "s", "type": "nominal", "scale": {"domain": ["A","B","C","D","E","F","G","H"], "range": ["#404040","#ff0000","#0000ff","#000000","#ff0000","#0000ff","#000000","#000000"]},
   "legend": {"orient": "none", "legendX": 782, "legendY": 291, "title": null, "padding": 0,
    "labelFont": "Liberation Sans", "labelFontSize": 26, "labelColor": "#000000", "labelExpr": "'Specimen ' + datum.label",
    "symbolSize": 36, "symbolType": "M-11,0H11", "symbolOffset": 20.5, "labelOffset": 25, "rowPadding": 9.4,
    "encode": {"symbols": {"update": {
     "shape": {"signal": "datum.value === 'G' ? 'square' : datum.value === 'H' ? 'circle' : 'M-11,0H11'"},
     "size": {"value": 36},
     "stroke": {"signal": "datum.value === 'A' ? '#404040' : (datum.value === 'B' || datum.value === 'E') ? '#ff0000' : (datum.value === 'C' || datum.value === 'F') ? '#0000ff' : '#000000'"},
     "fill": {"signal": "(datum.value === 'G' || datum.value === 'H') ? '#ffffff' : 'transparent'"},
     "strokeWidth": {"signal": "(datum.value === 'D' || datum.value === 'E' || datum.value === 'F') ? 2.5 : 1"},
     "strokeDash": {"signal": "datum.value === 'A' ? [6,4] : datum.value === 'B' ? [3,2] : datum.value === 'D' ? [12,7] : datum.value === 'E' ? [7,4] : [1,0]"},
     "opacity": {"value": 1}
    }}}}},
  "strokeDash": {"field": "s", "type": "nominal", "scale": {"domain": ["A","B","C","D","E","F"], "range": [[6,4],[3,2],[1,0],[12,7],[7,4],[1,0]]}, "legend": null},
  "order": {"value": null}
 }},
{"data": {"name": "curves"},
 "transform": [{"filter": "indexof(['D','E','F'], datum.s) >= 0"}],
 "mark": {"type": "line", "strokeWidth": 2.5},
 "encoding": {
  "color": {"field": "s", "type": "nominal", "scale": {"domain": ["A","B","C","D","E","F","G","H"], "range": ["#404040","#ff0000","#0000ff","#000000","#ff0000","#0000ff","#000000","#000000"]}},
  "strokeDash": {"field": "s", "type": "nominal", "scale": {"domain": ["A","B","C","D","E","F"], "range": [[6,4],[3,2],[1,0],[12,7],[7,4],[1,0]]}, "legend": null},
  "order": {"value": null}
 }},
{"data": {"name": "sig"},
 "mark": {"type": "text", "font": "DejaVu Serif", "fontSize": 68, "align": "left", "baseline": "alphabetic", "color": "#000000"},
 "encoding": {"text": {"field": "t"}}},
{"data": {"name": "sub"},
 "mark": {"type": "text", "font": "Liberation Sans", "fontSize": 26, "align": "left", "baseline": "alphabetic", "color": "#000000"},
 "encoding": {"text": {"field": "t"}}},
{"data": {"name": "sup"},
 "mark": {"type": "text", "font": "Liberation Sans", "fontSize": 27, "align": "left", "baseline": "alphabetic", "color": "#000000"},
 "encoding": {"text": {"field": "t"}}}
]
}
